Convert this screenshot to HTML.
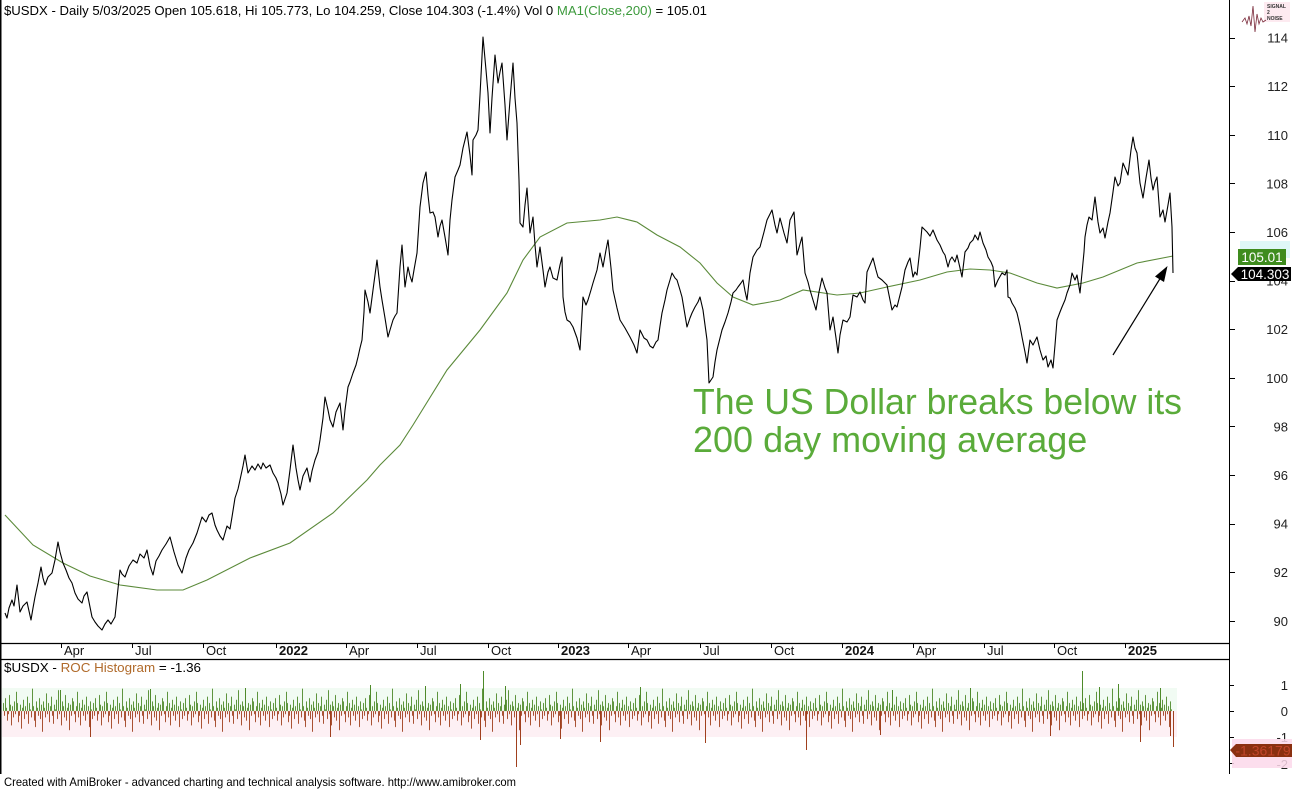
<!DOCTYPE html>
<html><head><meta charset="utf-8"><style>
html,body{margin:0;padding:0;background:#fff;}
svg{display:block;font-family:"Liberation Sans",Arial,sans-serif;}
</style></head><body>
<svg width="1292" height="789" viewBox="0 0 1292 789" xmlns="http://www.w3.org/2000/svg">
<defs>
<pattern id="hist" patternUnits="userSpaceOnUse" x="3" y="680" width="90" height="70" patternTransform="translate(0,711) scale(1,1.6) translate(0,-711)">
<path fill="none" stroke="#4e8a2a" stroke-width="0.9" d="M0.5 31V26M2.5 31V23M3.5 31V29M6.5 31V21M7.5 31V27M9.5 31V28M11.5 31V25M13.5 31V19M14.5 31V26M17.5 31V27M19.5 31V29M20.5 31V24M22.5 31V28M24.5 31V22M26.5 31V26M27.5 31V30M29.5 31V17M30.5 31V28M33.5 31V25M34.5 31V29M36.5 31V23M38.5 31V27M40.5 31V25M41.5 31V29M43.5 31V20M45.5 31V26M47.5 31V28M48.5 31V22M51.5 31V27M52.5 31V30M53.5 31V24M55.5 31V18M57.5 31V27M59.5 31V25M60.5 31V28M62.5 31V21M64.5 31V29M65.5 31V26M67.5 31V27M69.5 31V23M70.5 31V25M73.5 31V28M74.5 31V19M76.5 31V26M78.5 31V29M79.5 31V24M81.5 31V27M83.5 31V22M85.5 31V28M87.5 31V25M88.5 31V30"/>
<path fill="none" stroke="#a0401e" stroke-width="0.9" d="M1.5 31V34M4.5 31V37M5.5 31V33M8.5 31V40M10.5 31V35M12.5 31V33M15.5 31V38M16.5 31V34M18.5 31V42M21.5 31V36M23.5 31V33M25.5 31V39M28.5 31V35M31.5 31V37M32.5 31V41M35.5 31V34M37.5 31V36M39.5 31V44M42.5 31V35M44.5 31V33M46.5 31V38M49.5 31V34M50.5 31V39M54.5 31V36M56.5 31V33M58.5 31V40M61.5 31V35M63.5 31V37M66.5 31V43M68.5 31V34M71.5 31V33M72.5 31V38M75.5 31V35M77.5 31V40M80.5 31V34M82.5 31V37M84.5 31V33M86.5 31V41M89.5 31V36"/>
</pattern>
</defs>
<rect width="1292" height="789" fill="#fff"/>
<!-- hist background haze -->
<rect x="2" y="688" width="1175" height="23" fill="#f1fbf3"/>
<rect x="2" y="711" width="1175" height="26" fill="#fdf0f4"/>
<!-- frame lines -->
<line x1="0.75" y1="0" x2="0.75" y2="774" stroke="#000" stroke-width="1.5"/>
<line x1="1229.5" y1="0" x2="1229.5" y2="774" stroke="#000" stroke-width="1"/>
<line x1="0" y1="643.5" x2="1229.5" y2="643.5" stroke="#000" stroke-width="1.2"/>
<line x1="0" y1="659.5" x2="1229.5" y2="659.5" stroke="#000" stroke-width="1.2"/>
<!-- title -->
<text x="4" y="15" font-size="13" fill="#000" textLength="703" lengthAdjust="spacingAndGlyphs">$USDX - Daily 5/03/2025 Open 105.618, Hi 105.773, Lo 104.259, Close 104.303 (-1.4%) Vol 0 <tspan fill="#3c9a3c">MA1(Close,200)</tspan> = 105.01</text>
<!-- y axis ticks -->
<g stroke="#000" stroke-width="1">
<line x1="1229" y1="38.5" x2="1235" y2="38.5"/>
<line x1="1229" y1="86.5" x2="1235" y2="86.5"/>
<line x1="1229" y1="135.5" x2="1235" y2="135.5"/>
<line x1="1229" y1="183.5" x2="1235" y2="183.5"/>
<line x1="1229" y1="232.5" x2="1235" y2="232.5"/>
<line x1="1229" y1="281.5" x2="1235" y2="281.5"/>
<line x1="1229" y1="329.5" x2="1235" y2="329.5"/>
<line x1="1229" y1="378.5" x2="1235" y2="378.5"/>
<line x1="1229" y1="426.5" x2="1235" y2="426.5"/>
<line x1="1229" y1="475.5" x2="1235" y2="475.5"/>
<line x1="1229" y1="524.5" x2="1235" y2="524.5"/>
<line x1="1229" y1="572.5" x2="1235" y2="572.5"/>
<line x1="1229" y1="621.5" x2="1235" y2="621.5"/>
</g>
<g font-size="13" fill="#222" text-anchor="end">
<text x="1288" y="42.6">114</text>
<text x="1288" y="91.2">112</text>
<text x="1288" y="139.8">110</text>
<text x="1288" y="188.4">108</text>
<text x="1288" y="237">106</text>
<text x="1288" y="285.6">104</text>
<text x="1288" y="334.2">102</text>
<text x="1288" y="382.8">100</text>
<text x="1288" y="431.4">98</text>
<text x="1288" y="480">96</text>
<text x="1288" y="528.6">94</text>
<text x="1288" y="577.2">92</text>
<text x="1288" y="625.8">90</text>
</g>
<!-- date axis -->
<g stroke="#000" stroke-width="1">
<line x1="61.5" y1="644" x2="61.5" y2="648"/>
<line x1="132.5" y1="644" x2="132.5" y2="648"/>
<line x1="203.5" y1="644" x2="203.5" y2="648"/>
<line x1="276.5" y1="644" x2="276.5" y2="648"/>
<line x1="346.5" y1="644" x2="346.5" y2="648"/>
<line x1="417.5" y1="644" x2="417.5" y2="648"/>
<line x1="488.5" y1="644" x2="488.5" y2="648"/>
<line x1="558.5" y1="644" x2="558.5" y2="648"/>
<line x1="628.5" y1="644" x2="628.5" y2="648"/>
<line x1="700.5" y1="644" x2="700.5" y2="648"/>
<line x1="771.5" y1="644" x2="771.5" y2="648"/>
<line x1="842.5" y1="644" x2="842.5" y2="648"/>
<line x1="913.5" y1="644" x2="913.5" y2="648"/>
<line x1="984.5" y1="644" x2="984.5" y2="648"/>
<line x1="1054.5" y1="644" x2="1054.5" y2="648"/>
<line x1="1125.5" y1="644" x2="1125.5" y2="648"/>
</g>
<g font-size="13" fill="#111">
<text x="64" y="655">Apr</text>
<text x="135" y="655">Jul</text>
<text x="206" y="655">Oct</text>
<text x="279" y="655" font-weight="bold">2022</text>
<text x="349" y="655">Apr</text>
<text x="420" y="655">Jul</text>
<text x="491" y="655">Oct</text>
<text x="561" y="655" font-weight="bold">2023</text>
<text x="631" y="655">Apr</text>
<text x="703" y="655">Jul</text>
<text x="774" y="655">Oct</text>
<text x="845" y="655" font-weight="bold">2024</text>
<text x="916" y="655">Apr</text>
<text x="987" y="655">Jul</text>
<text x="1057" y="655">Oct</text>
<text x="1128" y="655" font-weight="bold">2025</text>
</g>
<!-- MA line -->
<polyline fill="none" stroke="#5b8a3a" stroke-width="1.1" points="5,515 33,545 63,563 90,576 120,585 157,590 183,590 207,580 250,558 290,543 333,513 367,480 380,465 400,445 413,425 447,370 480,330 507,293 523,260 540,237 567,223 600,220 617,217 637,222 657,235 680,247 700,263 717,283 733,297 753,305 770,302 780,300 803,290 837,295 860,293 887,287 920,280 947,272 970,269 990,270 1010,273 1037,283 1057,288 1083,283 1103,277 1137,263 1173,256"/>
<!-- price line -->
<polyline fill="none" stroke="#000" stroke-width="1.1" stroke-linejoin="round" points="5,613 7,618 9,608 12,600 14,606 17,585 20,612 23,606 27,602 29,611 31,620 33,608 35,597 38,583 41,567 43,578 45,585 48,577 52,573 55,560 58,542 60,552 63,563 66,570 69,578 72,583 75,593 78,599 82,603 84,596 87,592 90,607 92,617 95,622 98,626 102,630 105,624 108,620 111,624 115,617 117,598 120,570 122,574 125,577 129,566 133,560 137,563 140,554 144,558 147,550 150,566 153,575 156,561 159,556 162,550 166,544 170,537 174,552 178,565 182,573 186,558 189,550 193,543 197,533 202,517 206,522 209,515 212,513 215,525 217,530 220,536 223,540 227,526 230,529 232,517 235,498 238,489 240,480 243,466 245,455 248,473 252,466 255,470 258,464 261,469 263,463 266,468 270,465 273,473 276,478 278,483 281,494 283,505 285,499 287,493 290,470 293,445 296,468 298,480 300,490 303,476 307,468 310,482 312,471 315,460 318,452 320,440 323,418 325,397 328,410 330,420 333,427 336,412 340,403 343,430 345,410 348,387 350,382 353,373 356,365 358,357 360,348 362,340 364,312 365,290 368,302 370,313 373,290 375,275 377,260 380,287 382,300 385,318 388,337 390,330 393,320 395,316 397,313 400,267 402,245 405,287 408,267 410,276 412,282 414,270 417,253 420,207 423,183 426,172 428,195 430,213 433,212 435,217 438,237 440,226 442,220 445,237 448,255 450,220 452,200 455,177 458,170 460,165 463,148 467,132 470,155 472,175 473,140 476,135 478,130 480,95 483,37 486,70 488,93 490,133 492,98 495,55 498,83 500,72 502,63 505,105 507,140 510,100 513,63 515,98 517,123 519,180 520,223 523,227 525,205 527,188 530,233 533,217 535,245 537,267 540,247 543,270 545,287 548,272 550,267 553,278 557,280 560,265 562,257 563,297 565,312 567,320 570,322 573,327 577,338 580,350 583,297 586,305 588,300 591,290 593,283 597,270 600,253 603,267 606,250 608,240 611,268 613,290 617,308 620,320 625,328 630,337 634,345 637,353 640,330 644,338 647,340 650,346 653,348 656,342 658,340 660,326 662,313 665,300 667,290 670,280 672,273 675,278 677,280 680,290 682,297 685,315 687,327 690,318 692,313 695,307 698,302 700,297 703,310 705,325 707,340 709,383 711,380 713,377 715,362 717,350 720,338 722,330 725,322 728,313 731,302 733,293 736,290 738,287 741,283 743,280 745,291 747,300 750,273 753,257 757,250 760,247 764,232 767,220 770,214 772,210 775,225 777,233 780,218 784,233 787,243 790,220 794,212 797,255 800,244 802,237 805,273 808,282 810,290 813,300 816,310 819,292 822,278 825,288 827,293 830,330 833,317 836,338 838,353 840,335 843,320 847,322 850,317 853,295 857,297 860,292 863,300 865,303 867,272 870,265 873,258 876,270 878,277 882,280 887,285 890,300 892,310 895,305 897,307 900,295 902,287 905,270 908,262 910,258 913,277 915,272 917,275 920,248 922,227 925,230 927,232 930,236 933,230 937,240 940,245 943,252 945,255 948,267 950,260 952,257 955,262 957,255 960,268 962,277 965,252 968,248 970,243 973,240 975,235 978,240 980,232 983,243 986,250 988,257 991,262 993,267 995,287 998,280 1002,273 1005,275 1007,270 1008,297 1010,298 1012,303 1015,308 1017,313 1020,326 1022,337 1025,352 1027,363 1030,340 1033,345 1037,337 1040,350 1043,360 1046,356 1048,367 1051,360 1053,368 1055,345 1057,320 1060,312 1062,307 1065,300 1067,293 1070,285 1072,273 1075,280 1077,275 1080,293 1082,273 1084,252 1085,237 1087,225 1089,217 1092,220 1095,197 1098,222 1100,233 1103,228 1105,238 1108,222 1110,213 1113,192 1115,177 1118,186 1120,183 1123,163 1126,170 1128,175 1131,150 1133,137 1135,148 1137,153 1140,183 1143,198 1146,178 1149,160 1151,178 1153,190 1155,182 1157,177 1160,217 1163,210 1165,222 1168,205 1170,193 1172,227 1173,273"/>
<!-- annotation -->
<text x="693" y="414" font-size="36" fill="#5aab3a" textLength="489" lengthAdjust="spacingAndGlyphs">The US Dollar breaks below its</text>
<text x="693" y="452" font-size="36" fill="#5aab3a">200 day moving average</text>
<line x1="1113" y1="355" x2="1161" y2="277" stroke="#000" stroke-width="1.2"/>
<polygon points="1167.5,266 1164,282 1155,276.5" fill="#000"/>
<!-- price labels -->
<rect x="1240" y="241" width="50" height="17" fill="#dff8f8"/>
<rect x="1238" y="249" width="48" height="16" fill="#3f8c1e"/>
<text x="1262" y="262" font-size="13.5" fill="#fff" text-anchor="middle">105.01</text>
<polygon points="1231,274 1238,267 1291,267 1291,281 1238,281" fill="#000"/>
<text x="1265" y="279" font-size="13.5" fill="#fff" text-anchor="middle">104.303</text>
<!-- logo -->
<rect x="1264" y="2" width="26" height="20" fill="#fdeaf0"/>
<polyline points="1242,22 1245,18 1247,24 1249,16 1251,26 1253,6 1255,32 1257,14 1259,24 1261,18 1263,22 1266,20" fill="none" stroke="#7a2a3a" stroke-width="0.8"/>
<text x="1267" y="8" font-size="5" fill="#333" font-weight="bold">SIGNAL</text>
<text x="1267" y="14" font-size="5" fill="#333" font-weight="bold">2</text>
<text x="1267" y="20" font-size="5" fill="#333" font-weight="bold">NOISE</text>
<!-- histogram -->
<rect x="3" y="676" width="1169" height="76" fill="url(#hist)"/>
<path fill="none" stroke="#4e8a2a" stroke-width="1" d="M483.5 711V671M1082.5 711V671M370.5 711V685M245.5 711V688M425.5 711V686M1118.5 711V684M1160.5 711V688M150.5 711V689M640.5 711V687M892.5 711V690M970.5 711V688M1099.5 711V687M460.5 711V684M505.5 711V686M60.5 711V690"/>
<path fill="none" stroke="#a0401e" stroke-width="1" d="M516.5 711V767M806.5 711V750M1140.5 711V742M330.5 711V737M705.5 711V743M600.5 711V742M560.5 711V739M1050.5 711V736M90.5 711V737M480.5 711V740M1173.5 711V747M1170.5 711V736M520.5 711V745M880.5 711V735"/>
<text x="4" y="672" font-size="13" fill="#000" textLength="197" lengthAdjust="spacingAndGlyphs">$USDX - <tspan fill="#b06a2a">ROC Histogram</tspan> = -1.36</text>
<!-- bottom axis -->
<g stroke="#000" stroke-width="1">
<line x1="1229" y1="685.5" x2="1234" y2="685.5"/>
<line x1="1229" y1="711.5" x2="1234" y2="711.5"/>
<line x1="1229" y1="737.5" x2="1234" y2="737.5"/>
<line x1="1229" y1="763.5" x2="1234" y2="763.5"/>
</g>
<g font-size="13" fill="#222" text-anchor="end">
<text x="1288" y="690">1</text>
<text x="1288" y="716">0</text>
<text x="1288" y="742">-1</text>
<text x="1288" y="769">-2</text>
</g>
<rect x="1232" y="739" width="60" height="29" fill="#fbd8ea" opacity="0.85"/>
<polygon points="1230,750 1236,744 1292,744 1292,757 1236,757" fill="#8a3010"/>
<text x="1263" y="755.5" font-size="14" fill="#c0452a" text-anchor="middle">-1.36179</text>
<!-- footer -->
<text x="4" y="786" font-size="12" fill="#000" textLength="512" lengthAdjust="spacingAndGlyphs">Created with AmiBroker - advanced charting and technical analysis software. http://www.amibroker.com</text>
</svg>
</body></html>
